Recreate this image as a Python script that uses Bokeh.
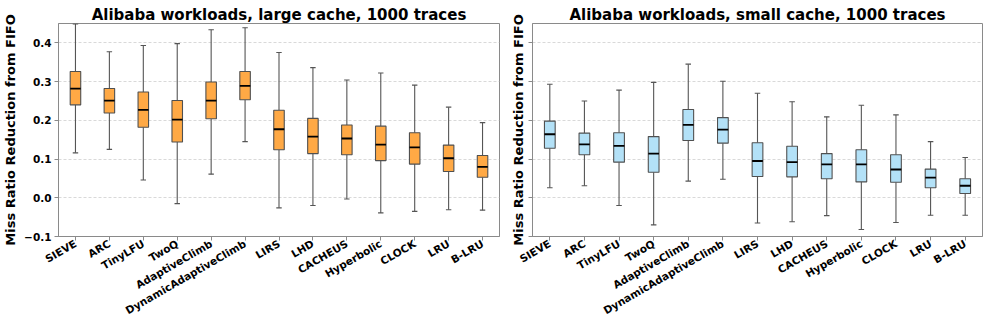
import numpy as np
from bokeh.plotting import figure
from bokeh.layouts import row
from bokeh.models import Range1d, FixedTicker, CustomJSTickFormatter
from bokeh.embed import file_html
from bokeh.resources import INLINE

policies = ["SIEVE", "ARC", "TinyLFU", "TwoQ", "AdaptiveClimb", "DynamicAdaptiveClimb",
            "LIRS", "LHD", "CACHEUS", "Hyperbolic", "CLOCK", "LRU", "B-LRU"]

y_ticks = [-0.1, 0.0, 0.1, 0.2, 0.3, 0.4]

# large cache
large_whislo = [0.116, 0.125, 0.046, -0.015, 0.061, 0.145, -0.026, -0.020, -0.003, -0.039, -0.035, -0.031, -0.032]
large_q1 = [0.240, 0.219, 0.182, 0.144, 0.204, 0.253, 0.124, 0.114, 0.111, 0.096, 0.087, 0.068, 0.053]
large_med = [0.282, 0.251, 0.227, 0.202, 0.251, 0.289, 0.177, 0.158, 0.153, 0.137, 0.130, 0.102, 0.080]
large_q3 = [0.326, 0.282, 0.273, 0.251, 0.299, 0.326, 0.226, 0.205, 0.188, 0.185, 0.168, 0.136, 0.109]
large_whishi = [0.449, 0.377, 0.393, 0.398, 0.434, 0.439, 0.375, 0.336, 0.304, 0.322, 0.291, 0.234, 0.194]

# small cache
small_whislo = [0.026, 0.031, -0.020, -0.070, 0.043, 0.048, -0.065, -0.062, -0.046, -0.082, -0.064, -0.045, -0.045]
small_q1 = [0.128, 0.111, 0.092, 0.066, 0.148, 0.141, 0.055, 0.054, 0.049, 0.041, 0.040, 0.026, 0.011]
small_med = [0.164, 0.138, 0.134, 0.114, 0.188, 0.176, 0.095, 0.092, 0.086, 0.086, 0.073, 0.052, 0.031]
small_q3 = [0.198, 0.167, 0.168, 0.158, 0.228, 0.207, 0.142, 0.133, 0.114, 0.124, 0.111, 0.074, 0.049]
small_whishi = [0.293, 0.250, 0.278, 0.298, 0.345, 0.301, 0.270, 0.248, 0.209, 0.239, 0.214, 0.145, 0.104]

FONT = "DejaVu Sans"
SPINE = "#8a8a8a"
BOX_EDGE = "#505050"
WHISK = "#555555"
BOX_W = 0.31
CAP_W = 0.16
Y_MIN, Y_MAX = -0.1, 0.45


def make_panel(title, lo, q1, med, q3, hi, fill, width, min_left, min_right, show_labels):
    pos = np.arange(1, len(policies) + 1)
    p = figure(width=width, height=324, output_backend="svg", toolbar_location=None,
               x_range=Range1d(0.5, len(policies) + 0.5), y_range=Range1d(Y_MIN, Y_MAX),
               min_border_left=min_left, min_border_right=min_right,
               min_border_top=23, min_border_bottom=10)
    p.title.text = title
    p.title.align = "center"
    p.title.text_font = FONT
    p.title.text_font_size = "15px"
    p.title.text_font_style = "bold"
    p.title.text_color = "black"
    p.title.standoff = 0
    p.title.offset = 0

    p.outline_line_color = SPINE
    p.outline_line_width = 1
    p.background_fill_color = "white"
    p.border_fill_color = "white"

    p.xgrid.grid_line_color = None
    p.ygrid.grid_line_color = "#cfcfcf"
    p.ygrid.grid_line_dash = "3 2"
    p.ygrid.grid_line_width = 0.8

    # whiskers
    p.segment(x0=pos, y0=q3, x1=pos, y1=hi, line_color=WHISK, line_width=1.1)
    p.segment(x0=pos, y0=lo, x1=pos, y1=q1, line_color=WHISK, line_width=1.1)
    p.segment(x0=pos - CAP_W / 2, y0=hi, x1=pos + CAP_W / 2, y1=hi, line_color=WHISK, line_width=1.1)
    p.segment(x0=pos - CAP_W / 2, y0=lo, x1=pos + CAP_W / 2, y1=lo, line_color=WHISK, line_width=1.1)
    # boxes
    p.vbar(x=pos, width=BOX_W, bottom=q1, top=q3, fill_color=fill, line_color=BOX_EDGE, line_width=1.1)
    # medians
    p.segment(x0=pos - BOX_W / 2, y0=med, x1=pos + BOX_W / 2, y1=med, line_color="black", line_width=1.8)

    xa = p.xaxis[0]
    xa.ticker = FixedTicker(ticks=list(pos))
    xa.major_label_overrides = {int(i): name for i, name in zip(pos, policies)}
    xa.major_label_orientation = np.deg2rad(30)
    xa.major_label_text_font = FONT
    xa.major_label_text_font_style = "bold"
    xa.major_label_text_font_size = "10.5px"
    xa.major_label_text_color = "black"
    xa.major_label_standoff = 2
    xa.minor_tick_line_color = None
    xa.major_tick_in = 0
    xa.major_tick_out = 4
    xa.major_tick_line_color = SPINE
    xa.axis_line_color = SPINE

    ya = p.yaxis[0]
    ya.ticker = FixedTicker(ticks=y_ticks)
    if show_labels:
        ya.formatter = CustomJSTickFormatter(code="return tick.toFixed(1).replace('-', '\u2212');")
    else:
        ya.formatter = CustomJSTickFormatter(code="return '';")
    ya.major_label_text_font = FONT
    ya.major_label_text_font_style = "bold"
    ya.major_label_text_font_size = "10.5px"
    ya.major_label_text_color = "black"
    ya.major_label_standoff = 3
    ya.minor_tick_line_color = None
    ya.major_tick_in = 0
    ya.major_tick_out = 4
    ya.major_tick_line_color = SPINE
    ya.axis_line_color = SPINE
    ya.axis_label = "Miss Ratio Reduction from FIFO"
    ya.axis_label_text_font = FONT
    ya.axis_label_text_font_style = "bold"
    ya.axis_label_text_font_size = "13px"
    ya.axis_label_text_color = "black"
    ya.axis_label_standoff = 3
    return p


p1 = make_panel("Alibaba workloads, large cache, 1000 traces",
                large_whislo, large_q1, large_med, large_q3, large_whishi,
                "#FFA945", 503, 49, 4, True)
p2 = make_panel("Alibaba workloads, small cache, 1000 traces",
                small_whislo, small_q1, small_med, small_q3, small_whishi,
                "#B3E1F7", 480, 29, 1, False)

layout = row(p1, p2, spacing=0)

open("out.html", "w").write(file_html(layout, INLINE))
